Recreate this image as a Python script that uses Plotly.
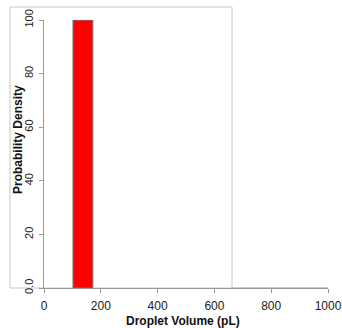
import plotly.graph_objects as go

# Data
bin_left = [102]
bin_right = [172]
density = [100]
empty_x = [662, 1000]
empty_y = [0, 0]
x_ticks = [0, 200, 400, 600, 800, 1000]
x_labels = ["0", "200", "400", "600", "800", "1000"]
y_ticks = [0, 20, 40, 60, 80, 100]
y_labels = ["0.0", "20", "40", "60", "80", "100"]

centers = [(a + b) / 2 for a, b in zip(bin_left, bin_right)]
widths = [b - a for a, b in zip(bin_left, bin_right)]

W, H = 342, 328
L, R, T, B = 44, 14, 20, 40

fig = go.Figure()
fig.add_trace(go.Bar(x=centers, y=density, width=widths,
                     marker=dict(color="#ff0000", line=dict(color="#777777", width=1))))
fig.add_trace(go.Scatter(x=empty_x, y=empty_y, mode="lines",
                         line=dict(color="#e08080", width=1), cliponaxis=False))

pw = W - L - R
ph = H - T - B
def px2x(p):
    return (p - L) / pw
def py2y(p):
    return (H - B - p) / ph

fig.add_shape(type="rect", xref="paper", yref="paper",
              x0=px2x(10), x1=px2x(232), y0=py2y(288), y1=py2y(7),
              line=dict(color="#c8c8c8", width=1), layer="below")

fig.add_annotation(text="<b>Droplet Volume (pL)</b>", xref="paper", yref="paper",
                   x=px2x(183), y=py2y(321), showarrow=False,
                   xanchor="center", yanchor="middle",
                   font=dict(family="Liberation Sans, Arial", size=12, color="#111"))
fig.add_annotation(text="<b>Probability Density</b>", xref="paper", yref="paper",
                   x=px2x(18), y=py2y(140), showarrow=False, textangle=-90,
                   xanchor="center", yanchor="middle",
                   font=dict(family="Liberation Sans, Arial", size=12, color="#111"))

fig.update_layout(
    width=W, height=H, margin=dict(l=L, r=R, t=T, b=B, autoexpand=False),
    paper_bgcolor="white", plot_bgcolor="white", showlegend=False,
    font=dict(family="Liberation Sans, Arial", size=12, color="#222"),
    xaxis=dict(range=[0, 1000], tickvals=x_ticks, ticktext=x_labels,
               showgrid=False, zeroline=False, showline=True, linecolor="#999",
               linewidth=1, ticks="outside", ticklen=4, tickcolor="#999",
               ticklabelstandoff=3, automargin=False, ticklabeloverflow="allow",
               tickfont=dict(size=12, color="#222")),
    yaxis=dict(range=[0, 100], tickvals=y_ticks, ticktext=y_labels,
               showgrid=False, zeroline=False, showline=True, linecolor="#999",
               linewidth=1, ticks="outside", ticklen=4, tickcolor="#999",
               tickangle=-90, ticklabelstandoff=2, automargin=False,
               ticklabeloverflow="allow",
               tickfont=dict(size=11, color="#222")),
)

fig.write_html("out.html")
